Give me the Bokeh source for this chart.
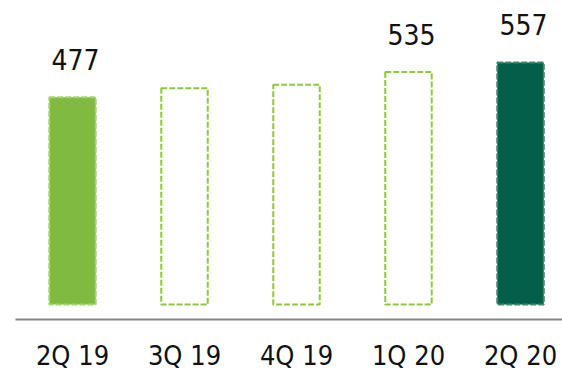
from bokeh.plotting import figure
from bokeh.models import Range1d, LinearAxis, FixedTicker, ColumnDataSource
from bokeh.core.properties import value
from bokeh.embed import file_html
from bokeh.resources import INLINE

categories = ["2Q 19", "3Q 19", "4Q 19", "1Q 20", "2Q 20"]
values = [477, 498, 506, 535, 557]
value_labels = ["477", "", "", "535", "557"]

fill_colors = ["#80BA41", None, None, None, "#035F4A"]
line_colors = ["#A6D46E", "#8DC63F", "#8DC63F", "#8DC63F", "#3E8572"]

FONT = "DejaVu Sans Condensed"

xs = list(range(len(categories)))
src = ColumnDataSource(dict(
    x=xs, top=values, lab=value_labels,
    fill=[c if c else "white" for c in fill_colors],
    falpha=[1 if c else 0 for c in fill_colors],
    line=line_colors,
))

p = figure(width=562, height=374, output_backend="svg", toolbar_location=None,
           x_range=Range1d(-0.509, 4.375), y_range=Range1d(-34.5, 699.7),
           x_axis_type=None, y_axis_type=None,
           min_border_left=15, min_border_right=0, min_border_top=0, min_border_bottom=55)
p.outline_line_color = None
p.grid.visible = False
p.background_fill_color = "white"

p.vbar(x="x", top="top", bottom=0, width=0.415, source=src,
       fill_color="fill", fill_alpha="falpha",
       line_color="line", line_width=2, line_dash="6 2")

p.text(x="x", y="top", text="lab", source=src, text_align="center",
       text_baseline="alphabetic", y_offset=-38, x_offset=3,
       text_font=value(FONT), text_font_size="28px", text_color="#111111")

p.extra_x_ranges = {"labels": Range1d(-0.509, 4.375)}
ax = LinearAxis(x_range_name="labels", ticker=FixedTicker(ticks=xs),
                major_label_overrides={i: c for i, c in enumerate(categories)})
ax.axis_line_color = "#858585"
ax.axis_line_width = 2
ax.major_tick_line_color = None
ax.minor_tick_line_color = None
ax.major_tick_out = 0
ax.major_tick_in = 0
ax.major_label_standoff = 20
ax.major_label_text_font = FONT
ax.major_label_text_font_size = "27px"
ax.major_label_text_line_height = 0.8
ax.major_label_text_color = "#111111"
p.add_layout(ax, "below")

open("out.html", "w").write(file_html(p, INLINE))
